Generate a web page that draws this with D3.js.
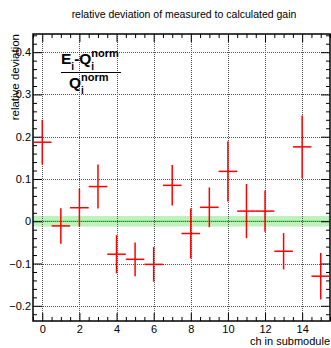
<!DOCTYPE html>
<html>
<head>
<meta charset="utf-8">
<script src="https://cdn.jsdelivr.net/npm/d3@7"></script>
<style>
  html, body { margin: 0; padding: 0; background: #fff; }
  svg { display: block; font-family: "Liberation Sans", Arial, Helvetica, sans-serif; }
</style>
</head>
<body>
<svg id="chart" width="331" height="348"></svg>
<script>
// Relative deviation of measured to calculated gain per channel
const channels  = [0, 1, 2, 3, 4, 5, 6, 7, 8, 9, 10, 11, 12, 13, 14, 15];
const deviation = [0.187, -0.011, 0.032, 0.082, -0.078, -0.090, -0.102, 0.085,
                   -0.029, 0.033, 0.118, 0.024, 0.024, -0.071, 0.176, -0.130];
const devError  = [0.053, 0.042, 0.045, 0.052, 0.045, 0.040, 0.041, 0.048,
                   0.059, 0.047, 0.071, 0.064, 0.049, 0.043, 0.074, 0.055];
const xTicks = [0, 2, 4, 6, 8, 10, 12, 14];
const yTicks = [-0.2, -0.1, 0, 0.1, 0.2, 0.3, 0.4];
const bandHalfWidth = 0.0125;

const frame = { left: 33, right: 330, top: 34, bottom: 321 };

const svg = d3.select("#chart");

const x = d3.scaleLinear().domain([-0.5, 15.5]).range([frame.left, frame.right]);
const y = d3.scaleLinear().domain([-0.236, 0.443]).range([frame.bottom, frame.top]);

// tolerance band around zero
svg.append("rect")
  .attr("x", frame.left).attr("width", frame.right - frame.left)
  .attr("y", y(bandHalfWidth)).attr("height", y(-bandHalfWidth) - y(bandHalfWidth))
  .attr("fill", "#a8eca8").attr("opacity", 0.75);
svg.append("line")
  .attr("x1", frame.left).attr("x2", frame.right)
  .attr("y1", y(0)).attr("y2", y(0))
  .attr("stroke", "#4fc24f").attr("stroke-width", 1);

// dotted grid
const grid = svg.append("g").attr("stroke", "#555").attr("stroke-width", 1)
  .attr("stroke-dasharray", "1,1").attr("shape-rendering", "crispEdges");
grid.selectAll("line.gx").data(xTicks).join("line")
  .attr("x1", d => Math.round(x(d)) + 0.5).attr("x2", d => Math.round(x(d)) + 0.5)
  .attr("y1", frame.top).attr("y2", frame.bottom);
grid.selectAll("line.gy").data(yTicks).join("line")
  .attr("y1", d => Math.round(y(d)) + 0.5).attr("y2", d => Math.round(y(d)) + 0.5)
  .attr("x1", frame.left).attr("x2", frame.right);

// axes (major + minor ticks on all four sides)
const xMinor = d3.range(-0.5, 15.51, 0.5).filter(v => !xTicks.includes(v));
const yMinor = d3.range(-0.22, 0.441, 0.02).map(v => +v.toFixed(2))
  .filter(v => !yTicks.some(t => Math.abs(t - v) < 1e-6));

const fmtY = d => d === 0 ? "0" : d3.format(".1f")(d).replace("-", "\u2212");

function styleAxis(g) {
  g.select(".domain").remove();
  g.selectAll(".tick line").attr("stroke", "#000").attr("stroke-width", 1);
  g.selectAll(".tick text").attr("font-size", 11).attr("fill", "#000");
}

svg.append("g").attr("transform", `translate(0,${frame.bottom})`)
  .call(d3.axisBottom(x).tickValues(xTicks).tickSize(-8).tickPadding(4).tickFormat(d3.format("d")))
  .call(styleAxis);
svg.append("g").attr("transform", `translate(0,${frame.bottom})`)
  .call(d3.axisBottom(x).tickValues(xMinor).tickSize(-4).tickFormat(""))
  .call(styleAxis);
svg.append("g").attr("transform", `translate(0,${frame.top})`)
  .call(d3.axisTop(x).tickValues(xTicks).tickSize(-8).tickFormat(""))
  .call(styleAxis);
svg.append("g").attr("transform", `translate(0,${frame.top})`)
  .call(d3.axisTop(x).tickValues(xMinor).tickSize(-4).tickFormat(""))
  .call(styleAxis);

svg.append("g").attr("transform", `translate(${frame.left},0)`)
  .call(d3.axisLeft(y).tickValues(yTicks).tickSize(-9).tickPadding(2).tickFormat(fmtY))
  .call(styleAxis);
svg.append("g").attr("transform", `translate(${frame.left},0)`)
  .call(d3.axisLeft(y).tickValues(yMinor).tickSize(-4).tickFormat(""))
  .call(styleAxis);
svg.append("g").attr("transform", `translate(${frame.right},0)`)
  .call(d3.axisRight(y).tickValues(yTicks).tickSize(-9).tickFormat(""))
  .call(styleAxis);
svg.append("g").attr("transform", `translate(${frame.right},0)`)
  .call(d3.axisRight(y).tickValues(yMinor).tickSize(-4).tickFormat(""))
  .call(styleAxis);

// frame
svg.append("rect")
  .attr("x", frame.left).attr("y", frame.top)
  .attr("width", frame.right - frame.left).attr("height", frame.bottom - frame.top)
  .attr("fill", "none").attr("stroke", "#000").attr("stroke-width", 1.5);

// data points with error bars
const pts = svg.append("g").attr("stroke", "#f00").attr("stroke-width", 1.5);
channels.forEach((c, i) => {
  pts.append("line")
    .attr("x1", x(c - 0.5)).attr("x2", x(c + 0.5))
    .attr("y1", y(deviation[i])).attr("y2", y(deviation[i]));
  pts.append("line")
    .attr("x1", x(c)).attr("x2", x(c))
    .attr("y1", y(deviation[i] + devError[i])).attr("y2", y(deviation[i] - devError[i]));
});

// title and axis labels
svg.append("text").attr("x", 184).attr("y", 18).attr("text-anchor", "middle")
  .attr("font-size", 10.5).text("relative deviation of measured to calculated gain");
svg.append("text").attr("x", frame.right).attr("y", 345).attr("text-anchor", "end")
  .attr("font-size", 11).text("ch in submodule");
svg.append("text").attr("transform", `translate(19,${frame.top}) rotate(-90)`)
  .attr("text-anchor", "end").attr("font-size", 11.5).text("relative deviation");

// formula legend
const f = svg.append("g").attr("font-weight", "bold").attr("fill", "#000");
const num = f.append("text").attr("x", 61).attr("y", 64).attr("font-size", 15.5);
num.append("tspan").text("E");
num.append("tspan").attr("font-size", 10).attr("dy", 6).text("i");
num.append("tspan").attr("dy", -6).text("-Q");
num.append("tspan").attr("font-size", 10).attr("dy", 6).text("i");
num.append("tspan").attr("font-size", 11).attr("dx", -2.8).attr("dy", -13).text("norm");
f.append("line").attr("x1", 61).attr("x2", 121).attr("y1", 72.5).attr("y2", 72.5)
  .attr("stroke", "#000").attr("stroke-width", 1);
const den = f.append("text").attr("x", 69).attr("y", 88).attr("font-size", 15.5);
den.append("tspan").text("Q");
den.append("tspan").attr("font-size", 10).attr("dy", 6).text("i");
den.append("tspan").attr("font-size", 11).attr("dx", -2.8).attr("dy", -13).text("norm");
</script>
</body>
</html>
